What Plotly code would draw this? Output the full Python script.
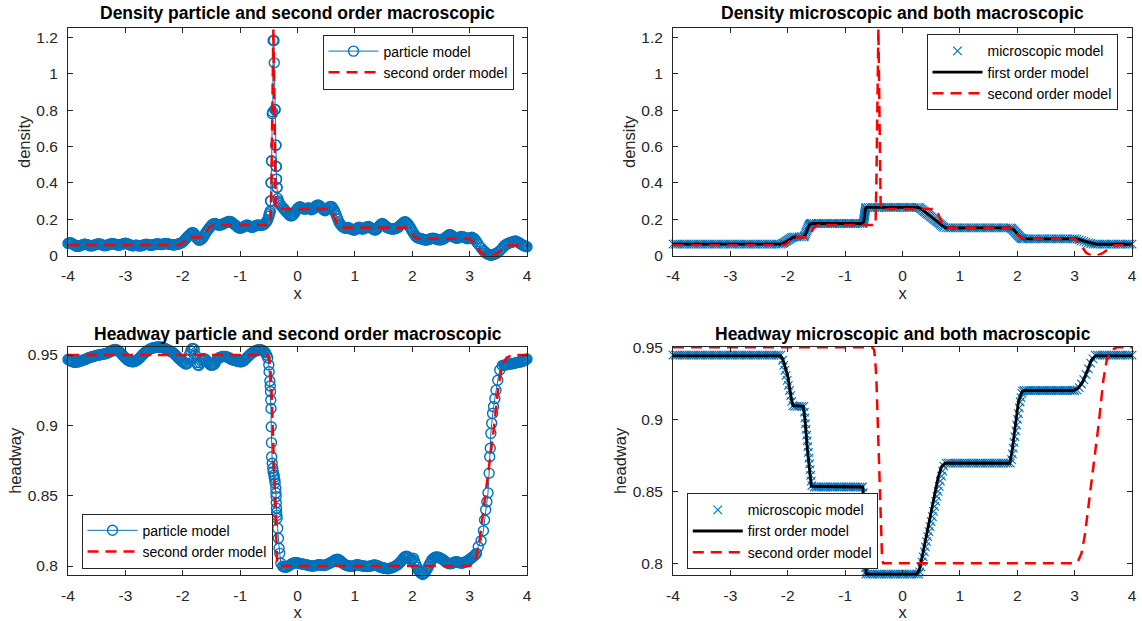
import plotly.graph_objects as go

# ---------------- tick labels ----------------
x_tick_vals = [-4, -3, -2, -1, 0, 1, 2, 3, 4]
x_tick_text = ["-4", "-3", "-2", "-1", "0", "1", "2", "3", "4"]
density_tick_vals = [0, 0.2, 0.4, 0.6, 0.8, 1, 1.2]
density_tick_text = ["0", "0.2", "0.4", "0.6", "0.8", "1", "1.2"]
headway_tick_vals = [0.8, 0.85, 0.9, 0.95]
headway_tick_text = ["0.8", "0.85", "0.9", "0.95"]

# ---------------- particle model (left panels): positions ----------------
particle_x = [
    -4.00, -3.98, -3.96, -3.94, -3.92, -3.90, -3.88, -3.86, -3.84, -3.82,
    -3.80, -3.78, -3.76, -3.74, -3.72, -3.70, -3.68, -3.66, -3.64, -3.62,
    -3.60, -3.58, -3.56, -3.54, -3.52, -3.50, -3.48, -3.46, -3.44, -3.42,
    -3.40, -3.38, -3.36, -3.34, -3.32, -3.30, -3.28, -3.26, -3.24, -3.22,
    -3.20, -3.18, -3.16, -3.14, -3.12, -3.10, -3.08, -3.06, -3.04, -3.02,
    -3.00, -2.98, -2.96, -2.94, -2.92, -2.90, -2.88, -2.86, -2.84, -2.82,
    -2.80, -2.78, -2.76, -2.74, -2.72, -2.70, -2.68, -2.66, -2.64, -2.62,
    -2.60, -2.58, -2.56, -2.54, -2.52, -2.50, -2.48, -2.46, -2.44, -2.42,
    -2.40, -2.38, -2.36, -2.34, -2.32, -2.30, -2.28, -2.26, -2.24, -2.22,
    -2.20, -2.18, -2.16, -2.14, -2.12, -2.10, -2.08, -2.06, -2.04, -2.02,
    -2.00, -1.98, -1.96, -1.94, -1.92, -1.90, -1.88, -1.86, -1.84, -1.82,
    -1.80, -1.78, -1.76, -1.74, -1.72, -1.70, -1.68, -1.66, -1.64, -1.62,
    -1.60, -1.58, -1.56, -1.54, -1.52, -1.50, -1.48, -1.46, -1.44, -1.42,
    -1.40, -1.38, -1.36, -1.34, -1.32, -1.30, -1.28, -1.26, -1.24, -1.22,
    -1.20, -1.18, -1.16, -1.14, -1.12, -1.10, -1.08, -1.06, -1.04, -1.02,
    -1.00, -0.98, -0.96, -0.94, -0.92, -0.90, -0.88, -0.86, -0.84, -0.82,
    -0.80, -0.78, -0.76, -0.74, -0.72, -0.70, -0.68, -0.66, -0.64, -0.62,
    -0.60, -0.58, -0.56, -0.54, -0.52,
    -0.50, -0.495, -0.482, -0.475, -0.47, -0.466, -0.462, -0.458, -0.454, -0.45,
    -0.44, -0.431, -0.425, -0.41, -0.405, -0.395, -0.39, -0.378, -0.375, -0.372,
    -0.37, -0.366, -0.365, -0.36, -0.356, -0.345, -0.333, -0.322, -0.31, -0.29,
    -0.26, -0.24, -0.22, -0.20, -0.18, -0.16, -0.14, -0.12, -0.10, -0.08,
    -0.06, -0.04, -0.02, 0.00, 0.02, 0.04, 0.06, 0.08, 0.10, 0.12,
    0.14, 0.16, 0.18, 0.20, 0.22, 0.24, 0.26, 0.28, 0.30, 0.32,
    0.34, 0.36, 0.38, 0.40, 0.42, 0.44, 0.46, 0.48, 0.50, 0.52,
    0.54, 0.56, 0.58, 0.60, 0.62, 0.64, 0.66, 0.68, 0.70, 0.72,
    0.74, 0.76, 0.78, 0.80, 0.82, 0.84, 0.86, 0.88, 0.90, 0.92,
    0.94, 0.96, 0.98, 1.00, 1.02, 1.04, 1.06, 1.08, 1.10, 1.12,
    1.14, 1.16, 1.18, 1.20, 1.22, 1.24, 1.26, 1.28, 1.30, 1.32,
    1.34, 1.36, 1.38, 1.40, 1.42, 1.44, 1.46, 1.48, 1.50, 1.52,
    1.54, 1.56, 1.58, 1.60, 1.62, 1.64, 1.66, 1.68, 1.70, 1.72,
    1.74, 1.76, 1.78, 1.80, 1.82, 1.84, 1.86, 1.88, 1.90, 1.92,
    1.94, 1.96, 1.98, 2.00, 2.02, 2.04, 2.06, 2.08, 2.10, 2.12,
    2.14, 2.16, 2.18, 2.20, 2.22, 2.24, 2.26, 2.28, 2.30, 2.32,
    2.34, 2.36, 2.38, 2.40, 2.42, 2.44, 2.46, 2.48, 2.50, 2.52,
    2.54, 2.56, 2.58, 2.60, 2.62, 2.64, 2.66, 2.68, 2.70, 2.72,
    2.74, 2.76, 2.78, 2.80, 2.82, 2.84, 2.86, 2.88, 2.90, 2.92,
    2.94, 2.96, 2.98, 3.00, 3.02, 3.04, 3.06, 3.08, 3.10, 3.12,
    3.15, 3.20, 3.24, 3.26, 3.28, 3.30, 3.32, 3.34, 3.35, 3.36,
    3.37, 3.385, 3.40, 3.417, 3.44, 3.46, 3.49, 3.525, 3.57,
    3.60, 3.62, 3.64, 3.66, 3.68, 3.70, 3.72, 3.74, 3.76, 3.78,
    3.80, 3.82, 3.84, 3.86, 3.88, 3.90, 3.92, 3.94, 3.96, 3.98, 4.00,
]

# ---------------- particle model: density (top-left) ----------------
particle_density = [
    0.066, 0.069, 0.070, 0.067, 0.064, 0.059, 0.056, 0.052, 0.050, 0.051,
    0.052, 0.055, 0.057, 0.060, 0.062, 0.062, 0.061, 0.059, 0.057, 0.054,
    0.053, 0.054, 0.055, 0.058, 0.060, 0.062, 0.064, 0.064, 0.063, 0.060,
    0.058, 0.055, 0.054, 0.055, 0.056, 0.059, 0.061, 0.063, 0.065, 0.065,
    0.064, 0.062, 0.060, 0.058, 0.057, 0.058, 0.059, 0.062, 0.064, 0.066,
    0.067, 0.066, 0.064, 0.061, 0.058, 0.056, 0.054, 0.054, 0.055, 0.056,
    0.056, 0.054, 0.053, 0.053, 0.054, 0.056, 0.058, 0.060, 0.062, 0.061,
    0.060, 0.058, 0.056, 0.057, 0.058, 0.060, 0.062, 0.063, 0.064, 0.063,
    0.061, 0.060, 0.060, 0.063, 0.065, 0.066, 0.066, 0.064, 0.062, 0.061,
    0.060, 0.059, 0.058, 0.059, 0.060, 0.061, 0.063, 0.065, 0.067, 0.070,
    0.074, 0.080, 0.088, 0.095, 0.102, 0.108, 0.114, 0.120, 0.126, 0.125,
    0.120, 0.110, 0.098, 0.090, 0.084, 0.085, 0.088, 0.094, 0.102, 0.113,
    0.124, 0.133, 0.142, 0.150, 0.158, 0.165, 0.172, 0.175, 0.176, 0.173,
    0.170, 0.168, 0.166, 0.168, 0.170, 0.173, 0.176, 0.179, 0.182, 0.185,
    0.188, 0.188, 0.186, 0.181, 0.176, 0.171, 0.166, 0.161, 0.156, 0.152,
    0.150, 0.152, 0.154, 0.158, 0.162, 0.165, 0.168, 0.165, 0.162, 0.158,
    0.155, 0.156, 0.158, 0.162, 0.165, 0.167, 0.168, 0.166, 0.165, 0.166,
    0.168, 0.172, 0.178, 0.186, 0.196,
    0.215, 0.225, 0.235, 0.245, 0.300, 0.300, 0.400, 0.400, 0.520, 0.520,
    0.780, 0.790, 1.183, 1.183, 1.060, 0.803, 0.803, 0.607, 0.607, 0.490,
    0.490, 0.420, 0.420, 0.374, 0.374, 0.314, 0.300, 0.290, 0.285, 0.275,
    0.264, 0.258, 0.250, 0.242, 0.235, 0.228, 0.222, 0.218, 0.219, 0.222,
    0.230, 0.240, 0.249, 0.258, 0.264, 0.268, 0.266, 0.262, 0.258, 0.255,
    0.256, 0.258, 0.261, 0.262, 0.257, 0.252, 0.254, 0.258, 0.265, 0.272,
    0.276, 0.278, 0.275, 0.270, 0.263, 0.256, 0.250, 0.246, 0.250, 0.256,
    0.262, 0.268, 0.270, 0.268, 0.259, 0.248, 0.234, 0.218, 0.202, 0.186,
    0.175, 0.166, 0.160, 0.155, 0.152, 0.150, 0.152, 0.154, 0.151, 0.148,
    0.145, 0.142, 0.140, 0.140, 0.145, 0.150, 0.154, 0.156, 0.151, 0.146,
    0.146, 0.148, 0.152, 0.156, 0.159, 0.160, 0.156, 0.152, 0.148, 0.144,
    0.141, 0.140, 0.145, 0.152, 0.160, 0.168, 0.173, 0.176, 0.172, 0.166,
    0.160, 0.154, 0.152, 0.150, 0.148, 0.146, 0.145, 0.146, 0.148, 0.150,
    0.153, 0.156, 0.162, 0.168, 0.174, 0.180, 0.184, 0.186, 0.181, 0.174,
    0.166, 0.156, 0.145, 0.134, 0.124, 0.114, 0.106, 0.100, 0.097, 0.095,
    0.093, 0.092, 0.090, 0.088, 0.086, 0.085, 0.086, 0.088, 0.090, 0.092,
    0.094, 0.095, 0.094, 0.092, 0.090, 0.088, 0.087, 0.086, 0.087, 0.088,
    0.091, 0.094, 0.099, 0.104, 0.109, 0.114, 0.114, 0.112, 0.107, 0.102,
    0.099, 0.096, 0.095, 0.096, 0.100, 0.104, 0.105, 0.104, 0.101, 0.098,
    0.095, 0.092, 0.094, 0.096, 0.098, 0.100, 0.097, 0.092, 0.085, 0.076,
    0.062, 0.042, 0.028, 0.022, 0.015, 0.010, 0.007, 0.005, 0.004, 0.003,
    0.003, 0.003, 0.004, 0.005, 0.008, 0.011, 0.016, 0.026, 0.040,
    0.052, 0.057, 0.062, 0.065, 0.068, 0.070, 0.072, 0.074, 0.076, 0.078,
    0.080, 0.077, 0.074, 0.070, 0.066, 0.062, 0.058, 0.055, 0.052, 0.050, 0.048,
]

# ---------------- particle model: headway (bottom-left) ----------------
particle_headway = [
    0.9468, 0.9464, 0.9460, 0.9456, 0.9452, 0.9450, 0.9448, 0.9449, 0.9450, 0.9452,
    0.9454, 0.9457, 0.9460, 0.9463, 0.9466, 0.9469, 0.9472, 0.9476, 0.9480, 0.9483,
    0.9486, 0.9488, 0.9490, 0.9492, 0.9495, 0.9497, 0.9498, 0.9500, 0.9502, 0.9504,
    0.9505, 0.9506, 0.9508, 0.9510, 0.9512, 0.9516, 0.9520, 0.9525, 0.9530, 0.9535,
    0.9538, 0.9539, 0.9538, 0.9534, 0.9528, 0.9521, 0.9514, 0.9505, 0.9495, 0.9486,
    0.9478, 0.9470, 0.9464, 0.9459, 0.9455, 0.9453, 0.9452, 0.9452, 0.9454, 0.9458,
    0.9462, 0.9469, 0.9476, 0.9484, 0.9492, 0.9501, 0.9510, 0.9517, 0.9524, 0.9530,
    0.9535, 0.9540, 0.9545, 0.9548, 0.9550, 0.9552, 0.9554, 0.9556, 0.9558, 0.9558,
    0.9557, 0.9556, 0.9554, 0.9551, 0.9548, 0.9544, 0.9540, 0.9536, 0.9532, 0.9529,
    0.9525, 0.9519, 0.9512, 0.9505, 0.9498, 0.9489, 0.9480, 0.9472, 0.9465, 0.9458,
    0.9452, 0.9445, 0.9438, 0.9436, 0.9440, 0.9470, 0.9505, 0.9528, 0.9545, 0.9546,
    0.9540, 0.9500, 0.9445, 0.9430, 0.9425, 0.9445, 0.9462, 0.9470, 0.9475, 0.9472,
    0.9468, 0.9458, 0.9448, 0.9438, 0.9430, 0.9428, 0.9428, 0.9432, 0.9440, 0.9455,
    0.9470, 0.9477, 0.9482, 0.9485, 0.9488, 0.9489, 0.9490, 0.9489, 0.9488, 0.9485,
    0.9482, 0.9476, 0.9470, 0.9467, 0.9464, 0.9462, 0.9460, 0.9457, 0.9455, 0.9453,
    0.9452, 0.9452, 0.9454, 0.9459, 0.9465, 0.9473, 0.9482, 0.9490, 0.9498, 0.9505,
    0.9512, 0.9518, 0.9524, 0.9528, 0.9532, 0.9535, 0.9538, 0.9538, 0.9537, 0.9534,
    0.9530, 0.9524, 0.9515, 0.9500, 0.9480,
    0.9430, 0.9381, 0.9315, 0.9280, 0.9240, 0.9180, 0.9120, 0.8990, 0.8877, 0.8777,
    0.8730, 0.8695, 0.8670, 0.8647, 0.8630, 0.8611, 0.8590, 0.8552, 0.8520, 0.8493,
    0.8450, 0.8410, 0.8380, 0.8360, 0.8339, 0.8268, 0.8197, 0.8126, 0.8090, 0.8020,
    0.7998, 0.7995, 0.7992, 0.7992, 0.7994, 0.7998, 0.8004, 0.8010, 0.8016, 0.8019,
    0.8022, 0.8023, 0.8024, 0.8022, 0.8020, 0.8018, 0.8016, 0.8014, 0.8012, 0.8011,
    0.8010, 0.8008, 0.8006, 0.8004, 0.8002, 0.8001, 0.8000, 0.8001, 0.8002, 0.8004,
    0.8006, 0.8008, 0.8010, 0.8008, 0.8006, 0.8005, 0.8004, 0.8006, 0.8008, 0.8012,
    0.8016, 0.8020, 0.8024, 0.8029, 0.8034, 0.8039, 0.8044, 0.8047, 0.8048, 0.8045,
    0.8040, 0.8032, 0.8024, 0.8017, 0.8010, 0.8007, 0.8004, 0.8002, 0.8000, 0.7999,
    0.7998, 0.7999, 0.8000, 0.8004, 0.8008, 0.8009, 0.8008, 0.8006, 0.8004, 0.8002,
    0.8000, 0.7999, 0.7998, 0.7997, 0.7996, 0.7997, 0.7998, 0.8001, 0.8004, 0.8006,
    0.8008, 0.8006, 0.8004, 0.8000, 0.7996, 0.7993, 0.7990, 0.7988, 0.7986, 0.7984,
    0.7982, 0.7981, 0.7980, 0.7982, 0.7984, 0.7987, 0.7990, 0.7994, 0.7998, 0.8003,
    0.8008, 0.8015, 0.8022, 0.8031, 0.8040, 0.8051, 0.8062, 0.8067, 0.8070, 0.8066,
    0.8060, 0.8050, 0.8040, 0.8048, 0.8056, 0.8034, 0.8012, 0.7992, 0.7972, 0.7962,
    0.7954, 0.7946, 0.7940, 0.7945, 0.7952, 0.7964, 0.7978, 0.7995, 0.8012, 0.8027,
    0.8042, 0.8050, 0.8058, 0.8062, 0.8064, 0.8063, 0.8062, 0.8058, 0.8054, 0.8049,
    0.8044, 0.8037, 0.8030, 0.8025, 0.8020, 0.8018, 0.8016, 0.8018, 0.8020, 0.8024,
    0.8028, 0.8029, 0.8030, 0.8027, 0.8024, 0.8022, 0.8020, 0.8022, 0.8024, 0.8028,
    0.8032, 0.8036, 0.8040, 0.8047, 0.8054, 0.8060, 0.8066, 0.8073, 0.8080, 0.8090,
    0.8137, 0.8180, 0.8250, 0.8327, 0.8400, 0.8457, 0.8520, 0.8660, 0.8777, 0.8837,
    0.8943, 0.9014, 0.9085, 0.9133, 0.9190, 0.9250, 0.9320, 0.9393, 0.9425,
    0.9428, 0.9430, 0.9432, 0.9434, 0.9435, 0.9436, 0.9437, 0.9438, 0.9440, 0.9442,
    0.9444, 0.9446, 0.9448, 0.9450, 0.9451, 0.9452, 0.9455, 0.9458, 0.9462, 0.9466, 0.9472,
]

# ---------------- second order model: density (top panels) ----------------
second_x_density = [
    -4, -2.04, -1.99, -1.93, -1.88, -1.66, -1.60, -1.53, -1.46, -0.47,
    -0.455, -0.44, -0.43, -0.42, -0.41, -0.40, -0.39, -0.38, 0.55, 0.62,
    0.70, 0.78, 1.90, 1.96, 2.05, 2.12, 3.00, 3.08, 3.20, 3.28,
    3.40, 3.50, 3.60, 3.70, 4,
]
second_density = [
    0.058, 0.058, 0.072, 0.097, 0.101, 0.101, 0.125, 0.158, 0.168, 0.168,
    0.40, 0.80, 1.10, 1.25, 1.00, 0.60, 0.35, 0.256, 0.256, 0.23,
    0.17, 0.152, 0.152, 0.135, 0.10, 0.092, 0.092, 0.07, 0.015, 0.002,
    0.0, 0.015, 0.04, 0.056, 0.058,
]

# ---------------- first order model: density (top-right) ----------------
first_x_density = [
    -4, -2.11, -2.05, -1.95, -1.90, -1.72, -1.69, -1.65, -1.62, -1.58,
    -0.69, -0.675, -0.66, -0.645, -0.63, 0.27, 0.32, 0.68, 0.74, 0.78,
    1.88, 1.93, 2.05, 2.10, 2.14, 3.00, 3.06, 3.20, 3.30, 3.38, 4,
]
first_density = [
    0.063, 0.063, 0.072, 0.094, 0.101, 0.102, 0.115, 0.150, 0.170, 0.176,
    0.176, 0.190, 0.230, 0.258, 0.265, 0.265, 0.258, 0.165, 0.154, 0.152,
    0.152, 0.145, 0.102, 0.094, 0.092, 0.092, 0.090, 0.076, 0.066, 0.062, 0.062,
]

# ---------------- microscopic model (right panels) ----------------
micro_x = [
    -4.00, -3.96, -3.92, -3.88, -3.84, -3.80, -3.76, -3.72, -3.68, -3.64,
    -3.60, -3.56, -3.52, -3.48, -3.44, -3.40, -3.36, -3.32, -3.28, -3.24,
    -3.20, -3.16, -3.12, -3.08, -3.04, -3.00, -2.96, -2.92, -2.88, -2.84,
    -2.80, -2.76, -2.72, -2.68, -2.64, -2.60, -2.56, -2.52, -2.48, -2.44,
    -2.40, -2.36, -2.32, -2.28, -2.24, -2.20, -2.16, -2.12,
    -2.09, -2.07, -2.05, -2.03, -2.01, -1.99, -1.97, -1.95, -1.93, -1.91,
    -1.88, -1.84, -1.80, -1.76, -1.72,
    -1.71, -1.70, -1.69, -1.68, -1.67, -1.66, -1.65, -1.64, -1.63, -1.62,
    -1.61, -1.60, -1.59, -1.58,
    -1.54, -1.50, -1.46, -1.42, -1.38, -1.34, -1.30, -1.26, -1.22, -1.18,
    -1.14, -1.10, -1.06, -1.02, -0.98, -0.94, -0.90, -0.86, -0.82, -0.78,
    -0.74, -0.70,
    -0.685, -0.68, -0.677, -0.674, -0.671, -0.668, -0.665, -0.662, -0.659, -0.656,
    -0.653, -0.65, -0.647, -0.644, -0.641, -0.637,
    -0.60, -0.56, -0.52, -0.48, -0.44, -0.40, -0.36, -0.32, -0.28, -0.24,
    -0.20, -0.16, -0.12, -0.08, -0.04, 0.00, 0.04, 0.08, 0.12, 0.16,
    0.20, 0.24, 0.28,
    0.30, 0.32, 0.34, 0.36, 0.38, 0.40, 0.42, 0.44, 0.46, 0.48,
    0.50, 0.52, 0.54, 0.56, 0.58, 0.60, 0.62, 0.64, 0.66, 0.68,
    0.70, 0.72,
    0.76, 0.80, 0.84, 0.88, 0.92, 0.96, 1.00, 1.04, 1.08, 1.12,
    1.16, 1.20, 1.24, 1.28, 1.32, 1.36, 1.40, 1.44, 1.48, 1.52,
    1.56, 1.60, 1.64, 1.68, 1.72, 1.76, 1.80, 1.84, 1.88,
    1.90, 1.915, 1.93, 1.945, 1.96, 1.975, 1.99, 2.005, 2.02, 2.035,
    2.05, 2.065, 2.08, 2.095,
    2.12, 2.16, 2.20, 2.24, 2.28, 2.32, 2.36, 2.40, 2.44, 2.48,
    2.52, 2.56, 2.60, 2.64, 2.68, 2.72, 2.76, 2.80, 2.84, 2.88,
    2.92, 2.96, 3.00,
    3.04, 3.08, 3.12, 3.16, 3.20, 3.24, 3.28, 3.32,
    3.36, 3.40, 3.44, 3.48, 3.52, 3.56, 3.60, 3.64, 3.68, 3.72,
    3.76, 3.80, 3.84, 3.88, 3.92, 3.96, 4.00,
]
micro_density = [
    0.063, 0.063, 0.063, 0.063, 0.063, 0.063, 0.063, 0.063, 0.063, 0.063,
    0.063, 0.063, 0.063, 0.063, 0.063, 0.063, 0.063, 0.063, 0.063, 0.063,
    0.063, 0.063, 0.063, 0.063, 0.063, 0.063, 0.063, 0.063, 0.063, 0.063,
    0.063, 0.063, 0.063, 0.063, 0.063, 0.063, 0.063, 0.063, 0.063, 0.063,
    0.063, 0.063, 0.063, 0.063, 0.063, 0.063, 0.063, 0.063,
    0.066, 0.070, 0.074, 0.078, 0.082, 0.086, 0.090, 0.094, 0.098, 0.101,
    0.102, 0.102, 0.102, 0.102, 0.102,
    0.106, 0.112, 0.120, 0.128, 0.136, 0.144, 0.152, 0.159, 0.165, 0.170,
    0.173, 0.175, 0.176, 0.176,
    0.176, 0.176, 0.176, 0.176, 0.176, 0.176, 0.176, 0.176, 0.176, 0.176,
    0.176, 0.176, 0.176, 0.176, 0.176, 0.176, 0.176, 0.176, 0.176, 0.176,
    0.176, 0.176,
    0.178, 0.184, 0.190, 0.196, 0.202, 0.208, 0.214, 0.220, 0.226, 0.232,
    0.238, 0.244, 0.250, 0.256, 0.261, 0.264,
    0.265, 0.265, 0.265, 0.265, 0.265, 0.265, 0.265, 0.265, 0.265, 0.265,
    0.265, 0.265, 0.265, 0.265, 0.265, 0.265, 0.265, 0.265, 0.265, 0.265,
    0.265, 0.265, 0.265,
    0.262, 0.257, 0.252, 0.247, 0.242, 0.237, 0.232, 0.227, 0.222, 0.217,
    0.212, 0.207, 0.202, 0.197, 0.192, 0.187, 0.182, 0.177, 0.172, 0.166,
    0.160, 0.155,
    0.152, 0.152, 0.152, 0.152, 0.152, 0.152, 0.152, 0.152, 0.152, 0.152,
    0.152, 0.152, 0.152, 0.152, 0.152, 0.152, 0.152, 0.152, 0.152, 0.152,
    0.152, 0.152, 0.152, 0.152, 0.152, 0.152, 0.152, 0.152, 0.152,
    0.149, 0.145, 0.140, 0.135, 0.130, 0.125, 0.120, 0.115, 0.110, 0.105,
    0.100, 0.096, 0.093, 0.092,
    0.092, 0.092, 0.092, 0.092, 0.092, 0.092, 0.092, 0.092, 0.092, 0.092,
    0.092, 0.092, 0.092, 0.092, 0.092, 0.092, 0.092, 0.092, 0.092, 0.092,
    0.092, 0.092, 0.092,
    0.090, 0.086, 0.082, 0.078, 0.074, 0.070, 0.066, 0.063,
    0.062, 0.062, 0.062, 0.062, 0.062, 0.062, 0.062, 0.062, 0.062, 0.062,
    0.062, 0.062, 0.062, 0.062, 0.062, 0.062, 0.062,
]
micro_headway = [
    0.9445, 0.9445, 0.9445, 0.9445, 0.9445, 0.9445, 0.9445, 0.9445, 0.9445, 0.9445,
    0.9445, 0.9445, 0.9445, 0.9445, 0.9445, 0.9445, 0.9445, 0.9445, 0.9445, 0.9445,
    0.9445, 0.9445, 0.9445, 0.9445, 0.9445, 0.9445, 0.9445, 0.9445, 0.9445, 0.9445,
    0.9445, 0.9445, 0.9445, 0.9445, 0.9445, 0.9445, 0.9445, 0.9445, 0.9445, 0.9445,
    0.9445, 0.9445, 0.9445, 0.9445, 0.9445, 0.9445, 0.9445, 0.9445,
    0.941, 0.9375, 0.934, 0.9305, 0.927, 0.9235, 0.920, 0.9165, 0.9125, 0.9095,
    0.909, 0.909, 0.909, 0.909, 0.909,
    0.905, 0.901, 0.897, 0.893, 0.889, 0.885, 0.881, 0.877, 0.873, 0.869,
    0.865, 0.861, 0.857, 0.854,
    0.853, 0.853, 0.853, 0.853, 0.853, 0.853, 0.853, 0.853, 0.853, 0.853,
    0.853, 0.853, 0.853, 0.853, 0.853, 0.853, 0.853, 0.853, 0.853, 0.853,
    0.853, 0.853,
    0.849, 0.845, 0.841, 0.837, 0.833, 0.829, 0.825, 0.821, 0.817, 0.813,
    0.809, 0.805, 0.801, 0.797, 0.794, 0.7925,
    0.7925, 0.7925, 0.7925, 0.7925, 0.7925, 0.7925, 0.7925, 0.7925, 0.7925, 0.7925,
    0.7925, 0.7925, 0.7925, 0.7925, 0.7925, 0.7925, 0.7925, 0.7925, 0.7925, 0.7925,
    0.7925, 0.7925, 0.7925,
    0.794, 0.7975, 0.801, 0.8045, 0.808, 0.8115, 0.815, 0.8185, 0.822, 0.8255,
    0.829, 0.8325, 0.836, 0.8395, 0.843, 0.8465, 0.850, 0.8535, 0.857, 0.8605,
    0.864, 0.8675,
    0.8695, 0.8695, 0.8695, 0.8695, 0.8695, 0.8695, 0.8695, 0.8695, 0.8695, 0.8695,
    0.8695, 0.8695, 0.8695, 0.8695, 0.8695, 0.8695, 0.8695, 0.8695, 0.8695, 0.8695,
    0.8695, 0.8695, 0.8695, 0.8695, 0.8695, 0.8695, 0.8695, 0.8695, 0.8695,
    0.872, 0.876, 0.880, 0.884, 0.888, 0.892, 0.896, 0.900, 0.904, 0.908,
    0.912, 0.915, 0.918, 0.9195,
    0.920, 0.920, 0.920, 0.920, 0.920, 0.920, 0.920, 0.920, 0.920, 0.920,
    0.920, 0.920, 0.920, 0.920, 0.920, 0.920, 0.920, 0.920, 0.920, 0.920,
    0.920, 0.920, 0.920,
    0.9205, 0.922, 0.9245, 0.9275, 0.931, 0.935, 0.939, 0.942,
    0.9445, 0.9445, 0.9445, 0.9445, 0.9445, 0.9445, 0.9445, 0.9445, 0.9445, 0.9445,
    0.9445, 0.9445, 0.9445, 0.9445, 0.9445, 0.9445, 0.9445,
]

# ---------------- second order model: headway (bottom panels) ----------------
second_x_headway = [
    -4, -0.52, -0.495, -0.475, -0.455, -0.43, -0.41, -0.39, -0.37, -0.355,
    -0.335, 3.00, 3.06, 3.12, 3.18, 3.26, 3.34, 3.42, 3.50, 3.56,
    3.64, 3.74, 4,
]
second_headway = [
    0.95, 0.95, 0.948, 0.941, 0.928, 0.895, 0.866, 0.838, 0.812, 0.8025,
    0.80, 0.80, 0.8015, 0.807, 0.82, 0.845, 0.868, 0.897, 0.927, 0.941,
    0.948, 0.95, 0.95,
]

# ---------------- first order model: headway (bottom-right) ----------------
first_x_headway = [
    -4, -2.12, -2.08, -2.00, -1.94, -1.91, -1.73, -1.70, -1.66, -1.62,
    -1.59, -0.69, -0.675, -0.66, -0.645, -0.635, 0.24, 0.29, 0.35, 0.62,
    0.68, 0.74, 1.87, 1.91, 2.02, 2.08, 2.12, 2.98, 3.06, 3.14,
    3.22, 3.29, 3.36, 4,
]
first_headway = [
    0.944, 0.944, 0.941, 0.930, 0.915, 0.9095, 0.909, 0.900, 0.880, 0.862,
    0.8535, 0.853, 0.835, 0.810, 0.795, 0.7925, 0.7925, 0.795, 0.806, 0.8595,
    0.867, 0.8695, 0.8695, 0.878, 0.912, 0.919, 0.920, 0.920, 0.9215, 0.926,
    0.9335, 0.941, 0.944, 0.944,
]

assert len(particle_x) == len(particle_density) == len(particle_headway)
assert len(micro_x) == len(micro_density) == len(micro_headway)
assert len(second_x_density) == len(second_density)
assert len(second_x_headway) == len(second_headway)
assert len(first_x_density) == len(first_density)
assert len(first_x_headway) == len(first_headway)

# ---------------- styling ----------------
BLUE = "#0072BD"
RED = "#FF0000"
AXC = "#262626"
FONT = "Liberation Sans, Arial, Helvetica, sans-serif"
W, H = 1142, 621

xL = [68 / W, 527 / W]
xR = [673 / W, 1132 / W]
yT = [1 - 255.5 / H, 1 - 28.3 / H]
yB = [1 - 575 / H, 1 - 346.7 / H]

fig = go.Figure()

particle_marker = dict(symbol="circle-open", size=10, color=BLUE, line=dict(width=1.4, color=BLUE))
micro_marker = dict(symbol="x-thin-open", size=8.5, color=BLUE, line=dict(width=1.1, color=BLUE))
red_line = dict(color=RED, width=2.5, dash="11px,7px")
black_line = dict(color="black", width=2.8)

# top-left
fig.add_trace(go.Scatter(x=particle_x, y=particle_density, mode="lines+markers",
                         name="particle model", line=dict(color=BLUE, width=1), marker=particle_marker,
                         xaxis="x", yaxis="y", legend="legend", cliponaxis=False))
fig.add_trace(go.Scatter(x=second_x_density, y=second_density, mode="lines", name="second order model",
                         line=red_line, xaxis="x", yaxis="y", legend="legend"))
# top-right
fig.add_trace(go.Scatter(x=micro_x, y=micro_density, mode="markers", name="microscopic model",
                         marker=micro_marker, xaxis="x2", yaxis="y2", legend="legend2", cliponaxis=False))
fig.add_trace(go.Scatter(x=first_x_density, y=first_density, mode="lines", name="first order model",
                         line=black_line, xaxis="x2", yaxis="y2", legend="legend2"))
fig.add_trace(go.Scatter(x=second_x_density, y=second_density, mode="lines", name="second order model",
                         line=red_line, xaxis="x2", yaxis="y2", legend="legend2"))
# bottom-left
fig.add_trace(go.Scatter(x=particle_x, y=particle_headway, mode="lines+markers",
                         name="particle model", line=dict(color=BLUE, width=1), marker=particle_marker,
                         xaxis="x3", yaxis="y3", legend="legend3", cliponaxis=False))
fig.add_trace(go.Scatter(x=second_x_headway, y=second_headway, mode="lines", name="second order model",
                         line=red_line, xaxis="x3", yaxis="y3", legend="legend3"))
# bottom-right
fig.add_trace(go.Scatter(x=micro_x, y=micro_headway, mode="markers", name="microscopic model",
                         marker=micro_marker, xaxis="x4", yaxis="y4", legend="legend4", cliponaxis=False))
fig.add_trace(go.Scatter(x=first_x_headway, y=first_headway, mode="lines", name="first order model",
                         line=black_line, xaxis="x4", yaxis="y4", legend="legend4"))
fig.add_trace(go.Scatter(x=second_x_headway, y=second_headway, mode="lines", name="second order model",
                         line=red_line, xaxis="x4", yaxis="y4", legend="legend4"))


def xaxis(domain, anchor):
    return dict(domain=domain, anchor=anchor, range=[-4, 4], tickmode="array",
                tickvals=x_tick_vals, ticktext=x_tick_text,
                ticks="inside", ticklen=5, tickwidth=1, tickcolor=AXC,
                showline=True, linecolor=AXC, linewidth=1, mirror="ticks",
                showgrid=False, zeroline=False, automargin=False,
                tickfont=dict(family=FONT, size=15.5, color=AXC), ticklabelstandoff=6,
                title=dict(text="x", font=dict(family=FONT, size=16.5, color=AXC), standoff=4))


def yaxis(domain, anchor, rng, vals, text, label):
    return dict(domain=domain, anchor=anchor, range=rng, tickmode="array",
                tickvals=vals, ticktext=text,
                ticks="inside", ticklen=5, tickwidth=1, tickcolor=AXC,
                showline=True, linecolor=AXC, linewidth=1, mirror="ticks",
                showgrid=False, zeroline=False, automargin=False,
                tickfont=dict(family=FONT, size=15.5, color=AXC), ticklabelstandoff=6,
                title=dict(text=label, font=dict(family=FONT, size=16.5, color=AXC), standoff=1))


def legend(x, y, xanchor):
    return dict(x=x, y=y, xanchor=xanchor, yanchor="middle", xref="paper", yref="paper",
                bgcolor="white", bordercolor=AXC, borderwidth=1, itemwidth=50,
                font=dict(family=FONT, size=14, color="black"), tracegroupgap=0)


def title(text, x, y):
    return dict(text="<b>" + text + "</b>", x=x, y=y, xref="paper", yref="paper",
                xanchor="center", yanchor="middle", showarrow=False,
                font=dict(family=FONT, size=17.5, color="black"))


fig.update_layout(
    width=W, height=H, margin=dict(l=0, r=0, t=0, b=0),
    paper_bgcolor="white", plot_bgcolor="white", template="none",
    showlegend=True,
    xaxis=xaxis(xL, "y"),
    yaxis=yaxis(yT, "x", [0, 1.25], density_tick_vals, density_tick_text, "density"),
    xaxis2=xaxis(xR, "y2"),
    yaxis2=yaxis(yT, "x2", [0, 1.25], density_tick_vals, density_tick_text, "density"),
    xaxis3=xaxis(xL, "y3"),
    yaxis3=yaxis(yB, "x3", [0.7936, 0.9559], headway_tick_vals, headway_tick_text, "headway"),
    xaxis4=xaxis(xR, "y4"),
    yaxis4=yaxis(yB, "x4", [0.7919, 0.9504], headway_tick_vals, headway_tick_text, "headway"),
    legend=legend(513.5 / W, 1 - 62 / H, "right"),
    legend2=legend(1117.5 / W, 1 - 72.3 / H, "right"),
    legend3=legend(81.5 / W, 1 - 541.2 / H, "left"),
    legend4=legend(686.8 / W, 1 - 531.2 / H, "left"),
    annotations=[
        title("Density particle and second order macroscopic", 297.5 / W, 1 - 13.5 / H),
        title("Density microscopic and both macroscopic", 902.5 / W, 1 - 13.5 / H),
        title("Headway particle and second order macroscopic", 297.5 / W, 1 - 334 / H),
        title("Headway microscopic and both macroscopic", 902.5 / W, 1 - 334 / H),
    ],
)

fig.write_html("out.html", config={"displayModeBar": False})
